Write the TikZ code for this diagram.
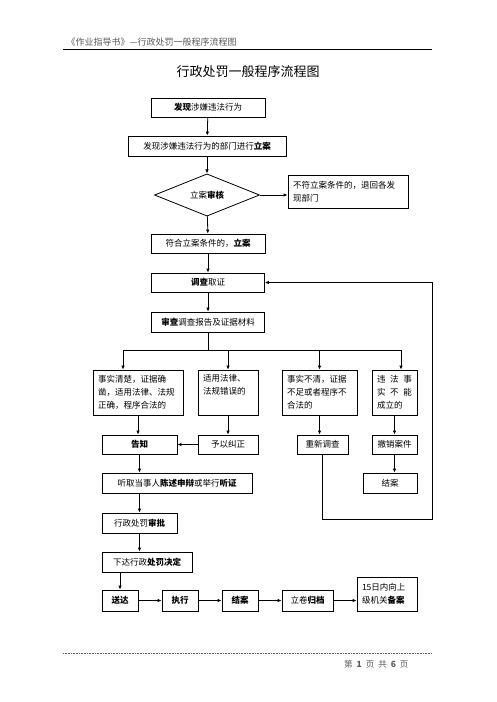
\documentclass[tikz,border=0pt]{standalone}
\usepackage{fontspec}
\setmainfont{Noto Sans CJK SC}
\usetikzlibrary{arrows.meta,positioning,shapes.geometric}
\definecolor{Header}{HTML}{5A5A5A}
\tikzset{
  arr/.style={-{Latex[length=4pt,width=3.5pt]},line width=0.8pt,draw=black},
  link/.style={line width=0.8pt,draw=black},
  boxstyle/.style={draw=black,line width=0.8pt,inner sep=0pt,font=\fontsize{8.5}{13}\selectfont},
  textbox/.style={boxstyle,inner xsep=5pt,align=left},
  decision/.style={diamond,draw=black,line width=0.8pt,inner sep=0pt,font=\fontsize{8.5}{13}\selectfont}
}

\begin{document}
\begin{tikzpicture}[x=1pt,y=-1pt]
  \useasboundingbox (0,0) rectangle (496,702);
  % page header and title
  \node[anchor=west,font=\fontsize{9}{11}\selectfont,text=Header] (head) at (63,42) {《作业指导书》—行政处罚一般程序流程图};
  \draw[link] (63,49) -- (432,49);
  \node[font=\fontsize{13}{15}\selectfont] (title) at (248,72) {行政处罚一般程序流程图};
  % main column
  \node[boxstyle,minimum width=114pt,minimum height=19pt] (find) at (208,107.5) {\textbf{发现}涉嫌违法行为};
  \node[boxstyle,minimum width=158pt,minimum height=20pt] (file) at (207,146) {发现涉嫌违法行为的部门进行\textbf{立案}};
  \node[decision,minimum width=105pt,minimum height=38pt] (check) at (207,195) {立案\textbf{审核}};
  \node[textbox,text width=110pt,minimum height=33pt] (reject) at (348,191.5) {不符立案条件的，退回各发\\现部门};
  \node[boxstyle,minimum width=114pt,minimum height=19pt] (accept) at (208,243.5) {符合立案条件的，\textbf{立案}};
  \node[boxstyle,minimum width=113pt,minimum height=19pt] (invest) at (208,282.5) {\textbf{调查}取证};
  \node[boxstyle,minimum width=113pt,minimum height=20pt] (review) at (208,322) {\textbf{审查}调查报告及证据材料};
  \draw[arr] (find) -- (file);
  \draw[arr] (file) -- (check);
  \draw[arr] (check.east) -- (check.east -| reject.west);
  \draw[arr] (check) -- (accept);
  \draw[arr] (accept) -- (invest);
  \draw[arr] (invest) -- (review);
  % four cases
  \node[textbox,text width=80pt,minimum height=45pt] (caseA) at (138,392.5) {事实清楚，证据确\\凿，适用法律、法规\\正确，程序合法的};
  \node[textbox,text width=50pt,minimum height=45pt] (caseB) at (228,392.5) {适用法律、\\法规错误的\\\strut};
  \node[textbox,text width=65pt,minimum height=45pt] (caseC) at (319.5,392.5) {事实不清，证据\\不足或者程序不\\合法的};
  \node[textbox,text width=35pt,minimum height=45pt] (caseD) at (394.5,392.5) {违\hfill 法\hfill 事\\实\hfill 不\hfill 能\\成立的};
  \coordinate (split) at (208,350);
  \coordinate (splitL) at (123,350);
  \coordinate (splitR) at (401,350);
  \draw[link] (review) -- (split);
  \draw[link] (splitL) -- (splitR);
  \draw[arr] (splitL) -- (splitL |- caseA.north);
  \draw[arr] (split -| caseB) -- (caseB);
  \draw[arr] (split -| caseC) -- (caseC);
  \draw[arr] (splitR) -- (splitR |- caseD.north);
  % results of the cases
  \node[boxstyle,minimum width=75pt,minimum height=19pt] (notify) at (139.5,444.5) {\textbf{告知}};
  \node[boxstyle,minimum width=60pt,minimum height=19pt] (correct) at (228,444.5) {予以纠正};
  \node[boxstyle,minimum width=51pt,minimum height=19pt] (redo) at (322.5,444.5) {重新调查};
  \node[boxstyle,minimum width=45pt,minimum height=19pt] (revoke) at (394.5,444.5) {撤销案件};
  \node[boxstyle,minimum width=54pt,minimum height=20pt] (ended) at (390,483) {结案};
  \draw[arr] (caseA) -- (notify.north -| caseA);
  \draw[arr] (caseB) -- (correct);
  \draw[arr] (caseC.south) -- (caseC.south |- redo.north);
  \draw[arr] (caseD.south) -- (caseD.south |- revoke.north);
  \draw[arr] (correct) -- (notify);
  \draw[arr] (revoke.south) -- (revoke.south |- ended.north);
  \coordinate (loop) at (432,519);
  \draw[arr] (redo.south) |- (loop) |- (invest.east);
  % hearing and decision
  \node[boxstyle,minimum width=150pt,minimum height=20pt] (hear) at (177,483) {听取当事人\textbf{陈述申辩}或举行\textbf{听证}};
  \node[boxstyle,minimum width=75pt,minimum height=20pt] (approve) at (139.5,523) {行政处罚\textbf{审批}};
  \node[boxstyle,minimum width=90pt,minimum height=20pt] (decide) at (147,562) {下达行政\textbf{处罚决定}};
  \draw[arr] (notify) -- (notify |- hear.north);
  \draw[arr] (approve |- hear.south) -- (approve);
  \draw[arr] (approve.south) -- (approve.south |- decide.north);
  % bottom row
  \node[boxstyle,minimum width=36pt,minimum height=21pt] (deliver) at (120,600.5) {\textbf{送达}};
  \node[boxstyle,minimum width=36pt,minimum height=21pt] (exec) at (180,600.5) {\textbf{执行}};
  \node[boxstyle,minimum width=36pt,minimum height=21pt] (close) at (240,600.5) {\textbf{结案}};
  \node[boxstyle,minimum width=51pt,minimum height=21pt] (archive) at (307.5,600.5) {立卷\textbf{归档}};
  \node[textbox,text width=50pt,minimum height=34pt] (record) at (387,594) {15日内向上\\级机关\textbf{备案}};
  \draw[arr] (deliver |- decide.south) -- (deliver);
  \draw[arr] (deliver) -- (exec);
  \draw[arr] (exec) -- (close);
  \draw[arr] (close) -- (archive);
  \draw[arr] (archive.east) -- (archive.east -| record.west);
  % page footer
  \draw[Header,densely dotted,line width=0.6pt] (63,653) -- (432,653);
  \node[anchor=east,font=\fontsize{8.5}{10}\selectfont,text=Header] (foot) at (412,664) {第\hspace{4pt}\textbf{1}\hspace{4pt}页\hspace{4pt}共\hspace{4pt}\textbf{6}\hspace{4pt}页};
\end{tikzpicture}
\end{document}
